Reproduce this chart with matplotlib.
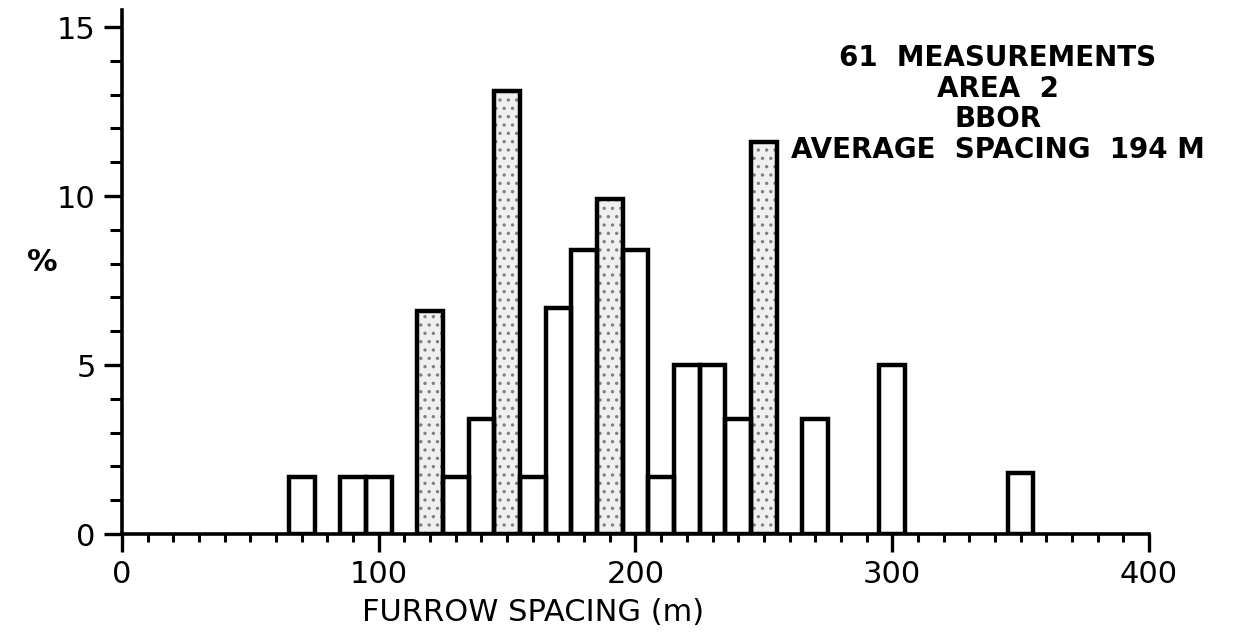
import numpy as np
import matplotlib
matplotlib.use("Agg")
import matplotlib.pyplot as plt
from matplotlib.ticker import MultipleLocator

spacing = [70, 90, 100, 120, 130, 140, 150, 160, 170, 180,
           190, 200, 210, 220, 230, 240, 250, 270, 300, 350]
percent = [1.7, 1.7, 1.7, 6.6, 1.7, 3.4, 13.1, 1.7, 6.7, 8.4,
           9.9, 8.4, 1.7, 5.0, 5.0, 3.4, 11.6, 3.4, 5.0, 1.8]
shaded = [120, 150, 190, 250]

x_ticks = [0, 100, 200, 300, 400]
y_ticks = [0, 5, 10, 15]
info_lines = ["61  MEASUREMENTS", "AREA  2", "BBOR", "AVERAGE  SPACING  194 M"]

plt.rcParams['font.family'] = ['DejaVu Sans']
plt.rcParams['hatch.linewidth'] = 1.2

fig = plt.figure(figsize=(12.36, 6.35), dpi=100)
ax = fig.add_axes([0.0987, 0.159, 0.8309, 0.825])

width = 10
lw = 3.2
for x, p in zip(spacing, percent):
    if x in shaded:
        # stipple fill first, then the outline on top
        ax.bar(x, p, width=width, facecolor='#f0f0f0', edgecolor='#808080',
               hatch='..', linewidth=0, zorder=2)
    ax.bar(x, p, width=width, facecolor='none', edgecolor='black',
           linewidth=lw, zorder=3)

ax.set_xlim(0, 400)
ax.set_ylim(0, 15.5)

for side in ['top', 'right']:
    ax.spines[side].set_visible(False)
for side in ['left', 'bottom']:
    ax.spines[side].set_linewidth(2.6)

ax.set_xticks(x_ticks)
ax.set_yticks(y_ticks)
ax.xaxis.set_minor_locator(MultipleLocator(10))
ax.yaxis.set_minor_locator(MultipleLocator(1))
ax.tick_params(which='major', direction='out', length=13, width=2.4,
               labelsize=22, pad=6)
ax.tick_params(axis='x', which='minor', direction='out', length=6, width=2.2)
ax.tick_params(axis='y', which='minor', direction='out', length=9, width=2.2)

ax.set_xlabel("FURROW SPACING (m)", fontsize=22, x=0.40, labelpad=6)
ax.set_ylabel("%", fontsize=22, fontweight='bold', rotation=0)
ax.yaxis.set_label_coords(-0.078, 0.49)

ax.text(0.853, 0.935, "\n".join(info_lines), transform=ax.transAxes,
        ha='center', va='top', fontsize=20, fontweight='bold',
        linespacing=1.12)

fig.savefig("out.png", dpi=100)
